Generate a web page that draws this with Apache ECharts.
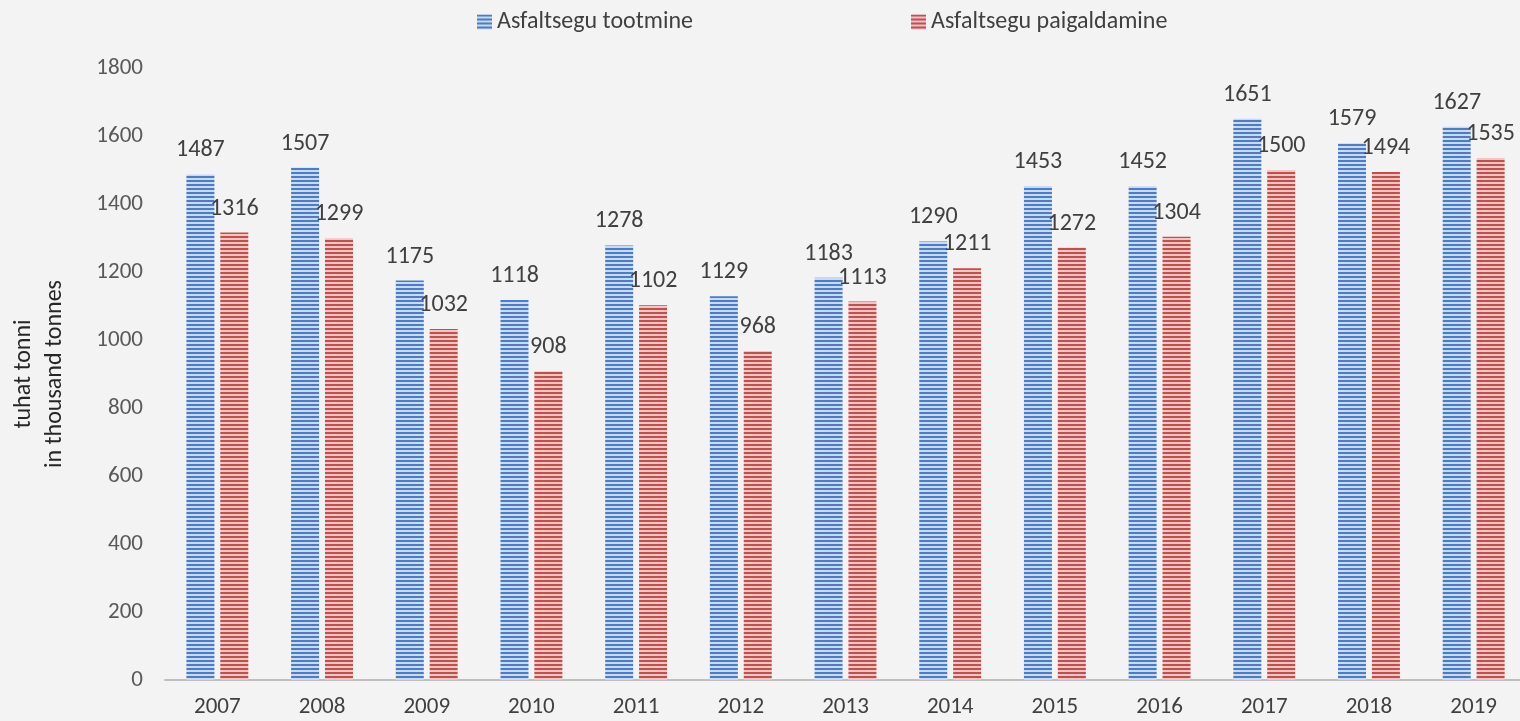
<!DOCTYPE html>
<html>
<head>
<meta charset="utf-8">
<script src="https://cdn.jsdelivr.net/npm/echarts@6/dist/echarts.min.js"></script>
<style>
  html,body{margin:0;padding:0;background:#f3f3f3;}
  #chart{width:1520px;height:721px;}
</style>
</head>
<body>
<div id="chart"></div>
<script>
// andmed / data
const years = ['2007','2008','2009','2010','2011','2012','2013','2014','2015','2016','2017','2018','2019'];
const tootmine = [1487,1507,1175,1118,1278,1129,1183,1290,1453,1452,1651,1579,1627];
const paigaldamine = [1316,1299,1032,908,1102,968,1113,1211,1272,1304,1500,1494,1535];
const seriesNames = ['Asfaltsegu tootmine','Asfaltsegu paigaldamine'];

// triibuline muster (horizontal stripes)
function stripes(dark, light){
  const c = document.createElement('canvas');
  c.width = 4; c.height = 4;
  const ctx = c.getContext('2d');
  ctx.fillStyle = light; ctx.fillRect(0,0,4,4);
  ctx.fillStyle = dark; ctx.fillRect(0,0,4,2);
  return {image:c, repeat:'repeat'};
}
const bluePat = stripes('#4a7dc6','#c9daf2');
const redPat = stripes('#c24f4c','#eec6c4');

const font = 'Carlito, Open Sans, sans-serif';
const chart = echarts.init(document.getElementById('chart'));
const labelOpt = {show:true, position:'top', distance:12, color:'#404040', fontSize:24, fontFamily:font};

chart.setOption({
  backgroundColor:'#f3f3f3',
  animation:false,
  legend:{
    top:5, left:472, itemGap:218, itemWidth:15, itemHeight:15, icon:'rect',
    textStyle:{color:'#404040', fontSize:24, fontFamily:font},
    data:[
      {name:seriesNames[0], itemStyle:{color:bluePat}},
      {name:seriesNames[1], itemStyle:{color:redPat}}
    ]
  },
  grid:{left:165, right:-6, top:68, bottom:41, containLabel:false, outerBoundsMode:'none'},
  xAxis:{
    type:'category', data:years,
    axisLine:{lineStyle:{color:'#bfbfbf', width:2}},
    axisTick:{show:false},
    axisLabel:{color:'#404040', fontSize:23, fontFamily:font, margin:16}
  },
  yAxis:{
    type:'value', min:0, max:1800, interval:200,
    name:'tuhat tonni\nin thousand tonnes', nameLocation:'middle', nameGap:95, nameRotate:90,
    nameTextStyle:{color:'#262626', fontSize:24, fontFamily:font, lineHeight:31},
    axisLine:{show:false}, axisTick:{show:false}, splitLine:{show:false},
    axisLabel:{color:'#595959', fontSize:23, fontFamily:font, margin:22, formatter:v => String(v)}
  },
  series:[
    {name:seriesNames[0], type:'bar', data:tootmine, barWidth:28, barGap:'21%',
     itemStyle:{color:bluePat}, label:labelOpt},
    {name:seriesNames[1], type:'bar', data:paigaldamine, barWidth:28,
     itemStyle:{color:redPat}, label:labelOpt}
  ]
});
</script>
</body>
</html>
